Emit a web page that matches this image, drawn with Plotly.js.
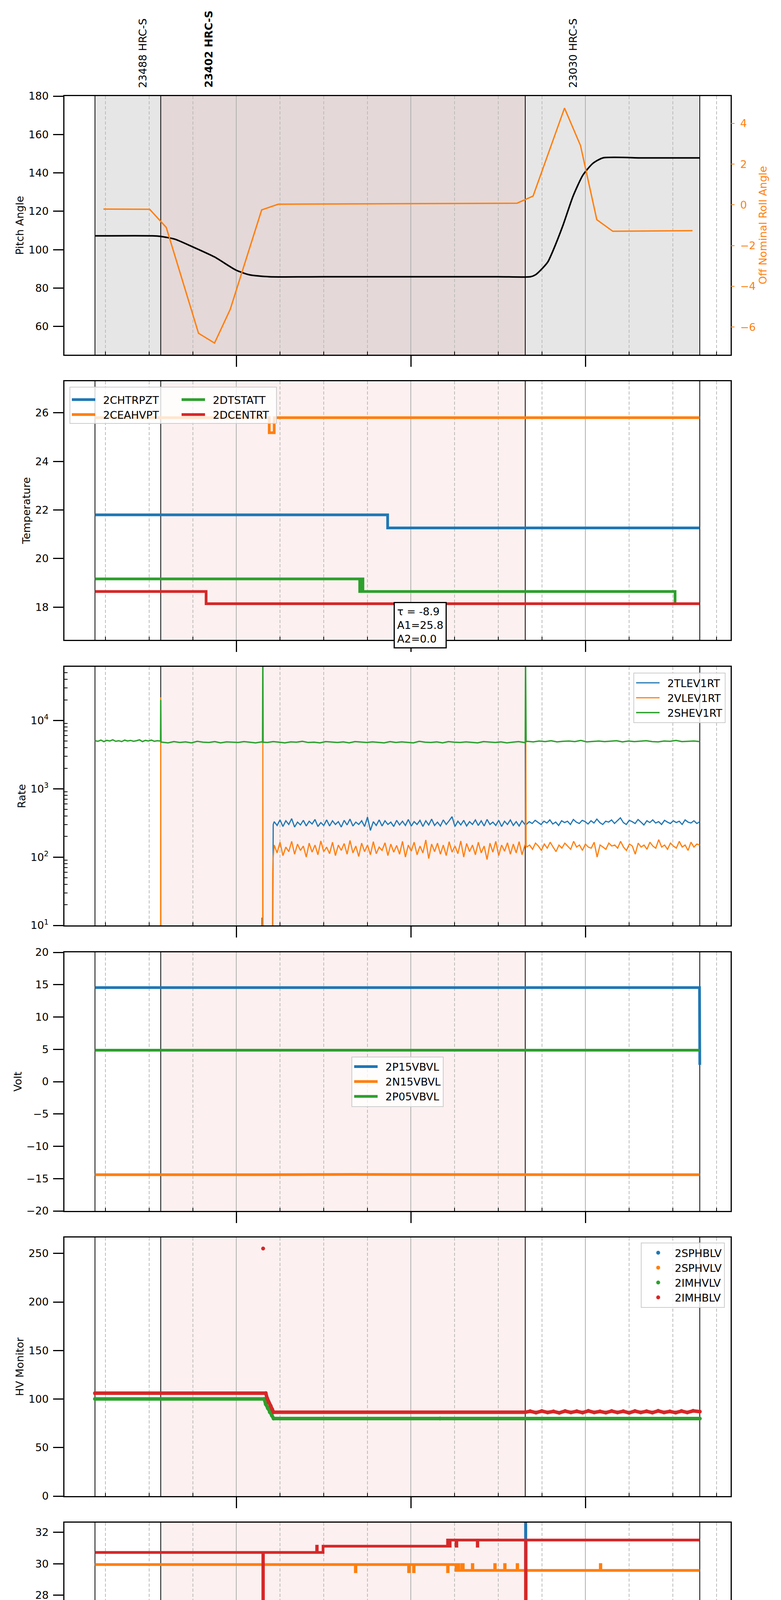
<!DOCTYPE html>
<html>
<head>
<meta charset="utf-8">
<script src="https://cdn.plot.ly/plotly-3.0.1.min.js"></script>
<style>body{margin:0;background:#fff}</style>
</head>
<body>
<div id="myChart" style="width:2000px;height:5400px"></div>
<script>
// time helper: 'HH:MM:SS' on 2021-05-15 -> ms
function t(s) {
  if (typeof s === 'number') return s;
  var p = s.split(':');
  return Date.UTC(2021, 4, 15, +p[0], +p[1], +(p[2] || 0));
}

// ---------------- data ----------------
var obsIds = ['23488', '23402', '23030'];
var obsInstr = ['HRC-S', 'HRC-S', 'HRC-S'];
var obsStart = ['06:11:24', '06:34:00', '08:39:18'];
var obsStop = ['06:34:00', '08:39:18', '09:39:18'];
var currentObs = '23402';

var hourTicks = ['07:00', '08:00', '09:00'];
var hourText = ['07h', '08h', '09h'];
var quarterTicks = ['06:15', '06:30', '06:45', '07:15', '07:30', '07:45', '08:15', '08:30', '08:45', '09:15', '09:30', '09:45'];
var quarterText = ['15', '30', '45', '15', '30', '45', '15', '30', '45', '15', '30', '45'];
var dayLabel = '2021-05-15 (135)';

// pitch / roll
var pitchTime = ['06:11:24', '06:31:06', '06:34:00', '06:38:48', '06:44:48', '06:52:30', '06:59:48', '07:04:30', '07:11:18', '07:30:00',
  '08:30:00', '08:41:06', '08:42:54', '08:45:24', '08:47:06', '08:48:48', '08:52:18', '08:55:42', '08:59:06', '09:02:30', '09:06:00', '09:20:00', '09:39:18'];
var pitchVal = [107.2, 107.2, 106.9, 105.5, 101.6, 96.2, 89.4, 86.9, 85.9, 85.9,
  85.9, 85.9, 87.0, 90.6, 93.7, 99.3, 112.8, 127.7, 138.8, 144.9, 147.8, 147.8, 147.8];
var rollTime = ['06:14:18', '06:30:12', '06:35:54', '06:47:00', '06:52:30', '06:57:54', '07:08:42', '07:14:24',
  '08:36:30', '08:42:00', '08:52:48', '08:58:18', '09:03:54', '09:09:24', '09:36:48'];
var rollVal = [-0.21, -0.22, -1.11, -6.31, -6.79, -5.13, -0.25, 0.03, 0.08, 0.43, 4.75, 2.91, -0.73, -1.30, -1.27];

// temperatures (step values)
var chtrpztTime = ['06:11:24', '07:52:00', '09:39:18'];
var chtrpztVal = [21.80, 21.26, 21.26];
var ceahvptTime = ['06:11:24', '07:11:18', '07:13:00', '09:39:18'];
var ceahvptVal = [25.80, 25.18, 25.80, 25.80];
var dtstattTime = ['06:11:24', '07:42:24', '07:43:00', '07:43:30', '09:30:48', '09:39:18'];
var dtstattVal = [19.16, 18.64, 19.16, 18.64, 18.14, 18.14];
var dcentrtTime = ['06:11:24', '06:49:36', '09:39:18'];
var dcentrtVal = [18.64, 18.14, 18.14];

// rates: isolated events plus roughly minute samples
var tlevEvT = ['07:08:46', '07:08:48', '07:08:52', '07:12:24', '07:12:40'];
var tlevEvV = [1, 13, 1, 1, 300];
var tlevObs = [330, 290, 350, 280, 340, 300, 365, 275, 325, 295, 345, 285, 335, 305, 355, 280, 320, 290, 350, 285, 340, 300, 330, 275, 345, 295, 360, 285, 325, 300, 340, 280, 385, 245, 330, 290, 350, 285, 340, 300, 325, 280, 345, 295, 335, 290, 355, 285, 330, 300, 345, 280, 340, 295, 360, 290, 325, 285, 350, 300, 340, 390, 280, 335, 295, 345, 285, 330, 300, 350, 290, 340, 285, 355, 300, 325, 290, 345, 280, 335, 300, 350, 290, 330, 285, 340, 300];
var tlevPost = [300, 330, 310, 345, 320, 300, 335, 315, 350, 305, 325, 290, 340, 320, 335, 300, 355, 325, 310, 345, 330, 305, 340, 315, 360, 320, 300, 335, 325, 350, 310, 340, 375, 320, 300, 345, 330, 310, 355, 325, 295, 340, 320, 350, 315, 330, 300, 345, 325, 310, 340, 320, 335, 300, 350, 325, 315, 340, 310, 330];

var vlevEvT = ['06:33:56', '06:34:00', '06:34:04', '07:09:02', '07:09:06', '07:09:10', '07:12:20', '07:12:30', '07:12:40', '08:39:24', '08:39:30', '08:39:36'];
var vlevEvV = [1, 21800, 1, 1, 4800, 1, 1, 58, 100, 150, 4800, 150];
var vlevObs = [150, 115, 165, 105, 140, 120, 170, 110, 155, 125, 145, 100, 160, 118, 150, 108, 172, 120, 140, 112, 165, 105, 150, 125, 158, 110, 175, 115, 145, 102, 160, 120, 150, 108, 168, 112, 140, 125, 162, 105, 155, 118, 148, 110, 170, 100, 150, 122, 165, 108, 145, 115, 178, 95, 155, 120, 160, 110, 150, 105, 168, 118, 145, 112, 172, 100, 158, 120, 150, 108, 165, 115, 145, 92, 160, 118, 170, 105, 150, 122, 162, 110, 155, 115, 168, 108, 150];
var vlevPost = [140, 150, 130, 160, 145, 125, 155, 135, 165, 140, 120, 150, 135, 160, 145, 130, 170, 140, 150, 125, 155, 140, 135, 165, 100, 150, 140, 130, 160, 145, 150, 135, 170, 140, 125, 155, 145, 110, 160, 140, 150, 130, 165, 145, 135, 180, 140, 150, 130, 160, 145, 135, 170, 140, 150, 125, 165, 140, 155, 150];

var shevEvT = ['06:33:56', '06:34:00', '06:34:06', '07:09:00', '07:09:06', '07:09:12', '08:39:18', '08:39:24', '08:39:36'];
var shevEvV = [5000, 20000, 4800, 4800, 100000, 4800, 4800, 100000, 4900];
var shevPre = [5050, 4950, 5150, 4900, 5100, 5000, 5200, 4950, 5050, 4900, 5150, 5000, 5100, 4950, 5050, 5200, 4900, 5100, 5000, 5150, 4950, 5050, 5000];
var shevObs = [4800, 4700, 4900, 4750, 4850, 4700, 4950, 4800, 4750, 4900, 4700, 4850, 4800, 4750, 4900, 4800, 4700, 4850, 4750, 4900, 4800, 4700, 4850, 4800, 4950, 4750, 4800, 4700, 4900, 4800, 4750, 4850, 4700, 4900, 4800, 4750, 4850, 4800, 4700, 4900, 4750, 4850, 4800, 4700, 4950, 4800, 4750, 4850, 4700, 4900, 4800, 4750, 4850, 4800, 4700, 4900, 4800, 4750, 4850, 4700, 4800, 4900, 4750];
var shevPost = [4950, 4850, 5000, 4900, 5050, 4850, 4950, 5000, 4900, 5100, 4850, 4950, 5000, 4900, 4950, 5050, 4850, 5000, 4900, 4950, 5050, 4900, 4850, 5000, 4950, 5100, 4900, 4950, 5000, 4900];

// voltages
var p15Time = ['06:11:24', '09:39:12', '09:39:18'];
var p15Val = [14.55, 14.55, 2.6];
var n15Time = ['06:11:24', '06:40:00', '07:10:00', '07:40:00', '08:10:00', '08:40:00', '09:10:00', '09:39:18'];
var n15Val = [-14.40, -14.45, -14.40, -14.35, -14.40, -14.45, -14.40, -14.40];
var p05Time = ['06:11:24', '09:39:18'];
var p05Val = [4.87, 4.87];

// HV monitors
var imhvlvTime = ['06:11:24', '07:09:36', '07:10:06', '07:10:48', '07:11:30', '07:12:12', '07:12:48', '08:10:00', '09:39:18'];
var imhvlvVal = [100.1, 100.1, 94.7, 90.6, 86.4, 83.0, 79.9, 79.9, 79.9];
var imhblvTime = ['06:11:24', '07:10:06', '07:10:36', '07:11:06', '07:11:48', '07:12:18', '07:12:48', '08:39:18', '08:41:00', '08:43:00', '08:45:00', '08:47:00', '08:49:00', '08:51:00', '08:53:00', '08:55:00', '08:57:00', '08:59:00', '09:01:00', '09:03:00', '09:05:00', '09:07:00', '09:09:00', '09:11:00', '09:13:00', '09:15:00', '09:17:00', '09:19:00', '09:21:00', '09:23:00', '09:25:00', '09:27:00', '09:29:00', '09:31:00', '09:33:00', '09:35:00', '09:37:00', '09:39:18'];
var imhblvVal = [106.0, 106.0, 100.6, 96.5, 92.9, 89.5, 86.4, 86.4, 87.4, 86.0, 87.6, 86.2, 87.2, 85.8, 87.6, 86.2, 87.4, 86.0, 87.8, 86.2, 87.2, 86.0, 87.6, 86.2, 87.4, 85.8, 87.6, 86.2, 87.4, 86.0, 87.8, 86.2, 87.2, 86.0, 87.6, 86.2, 87.8, 87.0];
var imhblvOutTime = ['07:09:12'];
var imhblvOutVal = [255.0];

// detector temps (step values)
var spinatmTime = ['06:11:24', '08:39:24', '08:39:30', '09:10:36', '09:39:18'];
var spinatmVal = [17.62, 34.0, 17.62, 17.00, 17.00];
var sphvatmTime = ['06:11:24', '07:40:54', '07:41:06', '07:59:12', '07:59:24', '08:00:54', '08:01:06', '08:12:36', '08:12:48', '08:15:30', '08:16:00', '08:16:30', '08:17:30', '08:18:00', '08:21:06', '08:21:18', '08:28:48', '08:29:00', '08:32:12', '08:32:24', '08:36:30', '08:36:42', '08:39:24', '08:39:36', '09:05:06', '09:05:18', '09:39:18'];
var sphvatmVal = [29.95, 29.50, 29.95, 29.50, 29.95, 29.50, 29.95, 29.50, 29.95, 29.58, 29.95, 29.58, 29.95, 29.58, 29.95, 29.58, 29.95, 29.58, 29.95, 29.58, 29.95, 29.58, 10.0, 29.58, 29.95, 29.58, 29.58];
var iminatmTime = ['06:11:24', '08:39:24', '08:39:36', '08:56:12', '09:39:18'];
var iminatmVal = [18.94, 10.0, 18.94, 18.29, 18.29];
var imhvatmTime = ['06:11:24', '07:09:06', '07:09:18', '07:27:36', '07:27:48', '07:29:48', '08:12:36', '08:13:00', '08:13:30', '08:15:30', '08:15:48', '08:22:48', '08:23:00', '08:39:24', '08:39:36', '09:39:18'];
var imhvatmVal = [30.72, 10.0, 30.72, 31.12, 30.72, 31.12, 31.51, 31.12, 31.51, 31.12, 31.51, 31.12, 31.51, 25.89, 31.51, 31.51];

// FEA temps (step values)
var fhtrmztTime = ['06:11:24', '07:42:24', '08:41:06', '09:39:18'];
var fhtrmztVal = [21.28, 20.73, 20.21, 20.21];
var fradpytTime = ['06:11:24', '06:28:00', '06:40:30', '06:53:42', '07:04:06', '07:16:36', '07:39:30', '08:20:48', '09:11:54', '09:38:06', '09:39:18'];
var fradpytVal = [16.67, 16.19, 16.67, 17.16, 16.67, 16.19, 15.71, 15.24, 15.71, 16.19, 16.19];
var fepratmTime = ['06:11:24', '07:09:06', '07:09:18', '08:14:18', '08:14:48', '08:15:30', '08:16:18', '08:17:12', '08:39:48', '08:39:54', '09:39:18'];
var fepratmVal = [23.14, 21.48, 23.14, 22.41, 23.14, 22.41, 23.14, 22.41, 26.0, 22.41, 22.41];
var fe00atmTime = ['06:11:24', '07:09:06', '07:09:18', '07:13:30', '07:13:42', '07:22:24', '07:22:36', '07:28:36', '07:28:48', '07:33:12', '07:33:24', '07:37:00', '07:37:30', '07:38:00', '08:01:48', '08:02:00', '08:21:30', '08:24:24', '08:24:36', '08:39:48', '08:40:00', '09:07:18', '09:07:30', '09:39:18'];
var fe00atmVal = [21.39, 10.0, 21.39, 22.70, 21.39, 20.45, 21.39, 21.05, 21.39, 20.75, 21.39, 21.09, 21.39, 21.09, 21.44, 21.09, 20.78, 21.76, 20.78, 10.0, 20.78, 21.76, 20.78, 20.78];

// ---------------- layout geometry ----------------
var W = 2000, H = 5400;
var margin = {l: 165, r: 129, t: 246, b: 109};
var plotW = W - margin.l - margin.r, plotH = H - margin.t - margin.b;
var panelTop = [246, 976, 1707, 2438, 3168, 3898, 4629];
var panelH = 662;
function xPaper(px) { return (px - margin.l) / plotW; }
function yPaper(py) { return (H - margin.b - py) / plotH; }
function domain(i) { return [yPaper(panelTop[i] + panelH), yPaper(panelTop[i])]; }

var blue = '#1f77b4', orange = '#ff7f0e', green = '#2ca02c', red = '#d62728';

function spread(start, stop, vals) {
  var a = t(start), b = t(stop), out = [];
  for (var i = 0; i < vals.length; i++) out.push([a + (b - a) * i / (vals.length - 1), vals[i]]);
  return out;
}
function merge(evT, evV, segs) {
  var pts = evT.map(function (s, i) { return [t(s), evV[i]]; });
  segs.forEach(function (s) { pts = pts.concat(s); });
  pts.sort(function (p, q) { return p[0] - q[0]; });
  return {x: pts.map(function (p) { return p[0]; }), y: pts.map(function (p) { return p[1]; })};
}

// ---------------- traces ----------------
var data = [];
function ax(n) { return n > 1 ? String(n) : ''; }
function addLine(n, x, y, name, color, width, legend, shape, yaxis) {
  data.push({
    x: x.map(t), y: y, name: name, type: 'scatter', mode: 'lines',
    xaxis: 'x' + ax(n), yaxis: yaxis || ('y' + ax(n)),
    line: {color: color, width: width, shape: shape || 'linear', smoothing: 0.6},
    legend: legend || 'legend', showlegend: !!legend, legendgroup: name, hoverinfo: 'skip'
  });
}

// panel 1
addLine(1, pitchTime, pitchVal, 'pitch', 'black', 4, null, 'spline');
addLine(1, rollTime, rollVal, 'roll', orange, 3.5, null, 'linear', 'y8');

// panel 2
addLine(2, chtrpztTime, chtrpztVal, '2CHTRPZT', blue, 7, 'legend', 'hv');
addLine(2, ceahvptTime, ceahvptVal, '2CEAHVPT', orange, 7, 'legend', 'hv');
addLine(2, dtstattTime, dtstattVal, '2DTSTATT', green, 7, 'legend2', 'hv');
addLine(2, dcentrtTime, dcentrtVal, '2DCENTRT', red, 7, 'legend2', 'hv');

// panel 3
var tlev = merge(tlevEvT, tlevEvV, [spread('07:13:00', '08:39:12', tlevObs), spread('08:39:40', '09:39:18', tlevPost)]);
var vlev = merge(vlevEvT, vlevEvV, [spread('07:13:00', '08:39:12', vlevObs), spread('08:39:48', '09:39:18', vlevPost)]);
var shev = merge(shevEvT, shevEvV, [spread('06:11:24', '06:33:50', shevPre), spread('06:34:30', '08:39:00', shevObs), spread('08:40:00', '09:39:18', shevPost)]);
addLine(3, tlev.x, tlev.y, '2TLEV1RT', blue, 3, 'legend3');
addLine(3, vlev.x, vlev.y, '2VLEV1RT', orange, 3, 'legend3');
addLine(3, shev.x, shev.y, '2SHEV1RT', green, 3.5, 'legend3');

// panel 4
addLine(4, p15Time, p15Val, '2P15VBVL', blue, 7, 'legend4');
addLine(4, n15Time, n15Val, '2N15VBVL', orange, 7, 'legend4');
addLine(4, p05Time, p05Val, '2P05VBVL', green, 7, 'legend4');

// panel 5: dense samples drawn as a band with dot markers
function addDots(name, color, x, y, extraX, extraY) {
  if (x.length > 1) addLine(5, x, y, name, color, 9, null);
  data.push({
    x: x.concat(extraX || []).map(t), y: y.concat(extraY || []), name: name, type: 'scatter', mode: 'markers',
    xaxis: 'x5', yaxis: 'y5', marker: {color: color, size: 10},
    legend: 'legend5', legendgroup: name, hoverinfo: 'skip'
  });
}
addDots('2SPHBLV', blue, ['06:11:24'], [null]);
addDots('2SPHVLV', orange, ['06:11:24'], [null]);
addDots('2IMHVLV', green, imhvlvTime, imhvlvVal);
addDots('2IMHBLV', red, imhblvTime, imhblvVal, imhblvOutTime, imhblvOutVal);

// panel 6
addLine(6, spinatmTime, spinatmVal, '2SPINATM', blue, 7, 'legend6', 'hv');
addLine(6, sphvatmTime, sphvatmVal, '2SPHVATM', orange, 7, 'legend6', 'hv');
addLine(6, iminatmTime, iminatmVal, '2IMINATM', green, 7, 'legend6', 'hv');
addLine(6, imhvatmTime, imhvatmVal, '2IMHVATM', red, 7, 'legend6', 'hv');

// panel 7
addLine(7, fhtrmztTime, fhtrmztVal, '2FHTRMZT', blue, 7, 'legend7', 'hv');
addLine(7, fradpytTime, fradpytVal, '2FRADPYT', orange, 7, 'legend7', 'hv');
addLine(7, fepratmTime, fepratmVal, '2FEPRATM', green, 7, 'legend7', 'hv');
addLine(7, fe00atmTime, fe00atmVal, '2FE00ATM', red, 7, 'legend7', 'hv');

// ---------------- axes ----------------
var xRange = [t('06:00:54'), t('09:49:54')];
var layout = {
  width: W, height: H, margin: margin,
  paper_bgcolor: 'white', plot_bgcolor: 'white',
  font: {family: 'DejaVu Sans', size: 27, color: 'black'},
  showlegend: true, shapes: [], annotations: []
};

for (var n = 1; n <= 7; n++) {
  layout['xaxis' + ax(n)] = {
    type: 'date', range: xRange, anchor: 'y' + ax(n),
    showline: true, mirror: true, linecolor: 'black', linewidth: 3, zeroline: false,
    tickmode: 'array', tickvals: hourTicks.map(t), ticktext: hourText,
    ticks: 'outside', ticklen: 28, tickwidth: 3, tickcolor: 'black',
    showticklabels: n === 7, tickfont: {size: 28}, ticklabelstandoff: 2,
    showgrid: true, gridcolor: '#b0b0b0', gridwidth: 2,
    minor: {tickmode: 'array', tickvals: quarterTicks.map(t), ticks: 'inside', ticklen: 8, tickwidth: 2,
      tickcolor: 'black', showgrid: true, gridcolor: '#bbbbbb', gridwidth: 2, griddash: '8px,5px'}
  };
}

function yAxis(i, range, dtick, title) {
  return {
    domain: domain(i), anchor: 'x' + ax(i + 1), range: range, dtick: dtick, tick0: 0,
    showline: true, mirror: true, linecolor: 'black', linewidth: 3, zeroline: false, showgrid: false,
    ticks: 'outside', ticklen: 26, tickwidth: 3, tickcolor: 'black', tickfont: {size: 27}, ticklabelstandoff: 6,
    title: {text: title, font: {size: 27}, standoff: 5}
  };
}
layout.yaxis = yAxis(0, [45.3, 180], 20, 'Pitch Angle');
layout.yaxis2 = yAxis(1, [16.65, 27.30], 2, 'Temperature');
layout.yaxis3 = yAxis(2, [1, 4.785], null, 'Rate');
layout.yaxis3.type = 'log';
layout.yaxis3.tickmode = 'array';
layout.yaxis3.tickvals = [10, 100, 1000, 10000];
layout.yaxis3.ticktext = ['10<sup>1</sup>', '10<sup>2</sup>', '10<sup>3</sup>', '10<sup>4</sup>'];
var logMinor = [];
[10, 100, 1000, 10000].forEach(function (d) { for (var k = 2; k <= 9; k++) if (d * k < 60000) logMinor.push(d * k); });
layout.yaxis3.minor = {tickmode: 'array', tickvals: logMinor, ticks: 'inside', ticklen: 8, tickwidth: 2, tickcolor: 'black', showgrid: false};
layout.yaxis4 = yAxis(3, [-20, 20], 5, 'Volt');
layout.yaxis5 = yAxis(4, [0, 266.4], 50, 'HV Monitor');
layout.yaxis6 = yAxis(5, [16.15, 32.62], 2, 'Detector Temp');
layout.yaxis7 = yAxis(6, [14.2, 24.64], 2, 'FEA Temp');
layout.yaxis8 = {
  overlaying: 'y', side: 'right', anchor: 'x', range: [-7.36, 5.34], dtick: 2, tick0: 0,
  showline: false, showgrid: false, zeroline: false,
  ticks: 'outside', ticklen: 9, tickwidth: 2, tickcolor: orange, tickfont: {size: 27, color: orange}, ticklabelstandoff: 9
};

// ---------------- shading, boundaries ----------------
var cur = obsIds.indexOf(currentObs);
layout.shapes.push({type: 'rect', xref: 'x', yref: 'y domain', x0: t(obsStart[0]), x1: t(obsStop[obsStop.length - 1]), y0: 0, y1: 1,
  fillcolor: 'rgba(128,128,128,0.2)', line: {width: 0}, layer: 'below'});
var bounds = obsStart.concat([obsStop[obsStop.length - 1]]);
for (var n = 1; n <= 7; n++) {
  layout.shapes.push({type: 'rect', xref: 'x' + ax(n), yref: 'y' + ax(n) + ' domain', x0: t(obsStart[cur]), x1: t(obsStop[cur]), y0: 0, y1: 1,
    fillcolor: 'rgba(214,39,40,0.07)', line: {width: 0}, layer: 'below'});
  bounds.forEach(function (b) {
    layout.shapes.push({type: 'line', xref: 'x' + ax(n), yref: 'y' + ax(n) + ' domain', x0: t(b), x1: t(b), y0: 0, y1: 1,
      line: {color: 'black', width: 2}, layer: 'below'});
  });
}

// obsid labels above the top panel
obsIds.forEach(function (id, i) {
  var label = id + ' ' + obsInstr[i];
  layout.annotations.push({
    xref: 'x', yref: 'paper', x: t(obsStart[i]) + 990000, y: yPaper(227), xanchor: 'center', yanchor: 'bottom',
    text: id === currentObs ? '<b>' + label + '</b>' : label, textangle: -90, showarrow: false, font: {size: 27}
  });
});

// right-hand axis title of the top panel
layout.annotations.push({xref: 'paper', yref: 'y domain', x: xPaper(1953), y: 0.5, xanchor: 'center', yanchor: 'middle',
  text: 'Off Nominal Roll Angle', textangle: -90, showarrow: false, font: {size: 27, color: orange}});

// fit result box
layout.annotations.push({
  xref: 'x2', yref: 'y2 domain', x: t('07:54:06'), y: 0.1465, xanchor: 'left', yanchor: 'top', align: 'left',
  text: 'τ = -8.9<br>A1=25.8<br>A2=0.0', showarrow: false, bgcolor: 'white', bordercolor: 'black', borderwidth: 3, borderpad: 6,
  font: {size: 27}
});

// minute labels and date label under the bottom axis
quarterTicks.forEach(function (q, i) {
  layout.annotations.push({xref: 'x7', yref: 'paper', x: t(q), y: yPaper(5299), xanchor: 'center', yanchor: 'top',
    text: quarterText[i], showarrow: false, font: {size: 20}});
});
layout.annotations.push({xref: 'paper', yref: 'paper', x: 0.5, y: yPaper(5399), xanchor: 'center', yanchor: 'bottom',
  text: dayLabel, showarrow: false, font: {size: 33}, borderpad: 0});

// ---------------- legends ----------------
function legendAt(px, py, xa, ya, framed) {
  return {
    x: xPaper(px), y: yPaper(py), xanchor: xa, yanchor: ya, xref: 'paper', yref: 'paper',
    bgcolor: framed ? 'rgba(255,255,255,0.8)' : 'rgba(0,0,0,0)', bordercolor: '#cccccc', borderwidth: framed ? 2 : 0,
    font: {size: 27}, tracegroupgap: 0, itemwidth: 75
  };
}
layout.legend = legendAt(179, 999, 'left', 'top', false);
layout.legend2 = legendAt(460, 999, 'left', 'top', false);
layout.legend3 = legendAt(1858, 1722, 'right', 'top', true);
layout.legend4 = legendAt(1018, 2769, 'center', 'middle', true);
layout.legend5 = legendAt(1856, 3181, 'right', 'top', true);
layout.legend6 = legendAt(1856, 4230, 'right', 'middle', true);
layout.legend7 = legendAt(179, 4960, 'left', 'middle', true);
// one frame around the two-column legend of panel 2
layout.shapes.push({type: 'rect', xref: 'paper', yref: 'paper', x0: xPaper(179), x1: xPaper(708), y0: yPaper(1084), y1: yPaper(991),
  fillcolor: 'rgba(255,255,255,0.8)', line: {color: '#cccccc', width: 2}, layer: 'above'});

Plotly.newPlot('myChart', data, layout, {displayModeBar: false, staticPlot: true}).then(function (gd) {
  // longer line samples in the legends, like the original
  gd.querySelectorAll('.legendlines path').forEach(function (p) { p.setAttribute('d', 'M5,0h60'); });
});
</script>
</body>
</html>
